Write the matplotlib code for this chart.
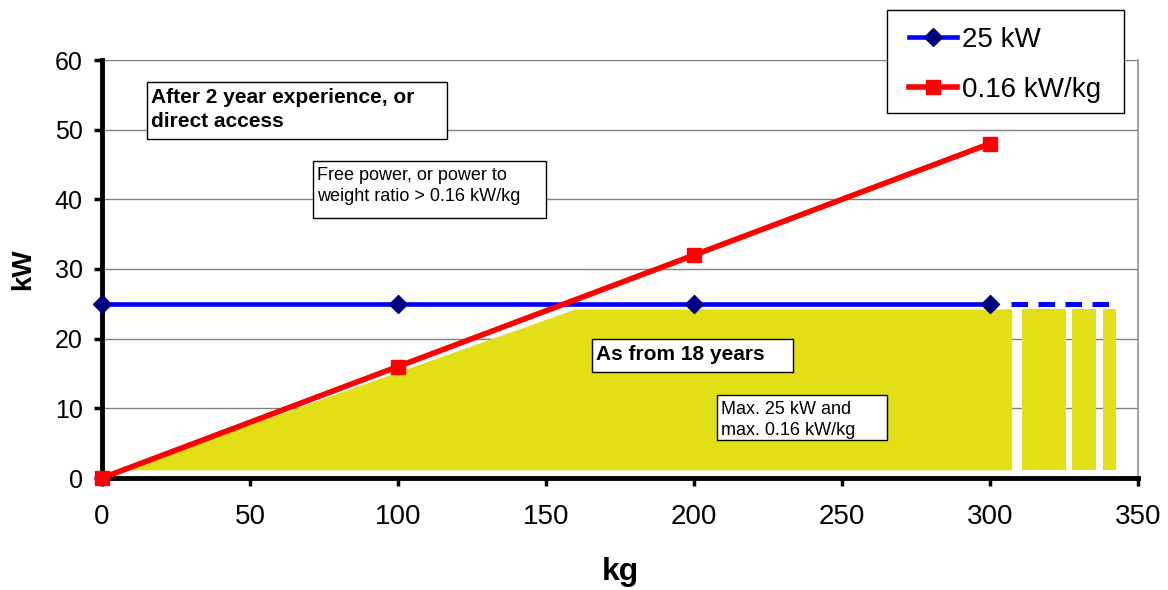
import matplotlib
matplotlib.use("Agg")
import matplotlib.pyplot as plt
from matplotlib.patches import Rectangle, Polygon

plt.rcParams['font.family'] = ['Liberation Sans', 'DejaVu Sans']

# data
kg = [0, 100, 200, 300]
limit_25kw = [25, 25, 25, 25]
ratio_016 = [0, 16, 32, 48]
ext_x = [307, 342]          # dashed continuation of the 25 kW line
ext_y = [25, 25]

# yellow "as from 18 years" area
area_x = [7, 160, 307.5, 307.5]
area_y = [1.1, 24.2, 24.2, 1.1]
strip_left = [310.8, 327.7, 338.2]
strip_right = [325.7, 335.8, 342.6]
strip_bottom = 1.2
strip_top = 24.2

yellow = '#E2DF17'

fig = plt.figure(figsize=(11.68, 5.9), dpi=100)
ax = fig.add_axes([102/1168, 1-478/590, 1036/1168, 418/590])

ax.set_xlim(0, 350)
ax.set_ylim(0, 60)
ax.set_xticks(range(0, 351, 50))
ax.set_yticks(range(0, 61, 10))
ax.yaxis.grid(True, color='#808080', linewidth=1.0)
ax.set_axisbelow(True)

ax.spines['top'].set_visible(False)
ax.spines['right'].set_color('#909090')
ax.spines['right'].set_linewidth(1.2)
for s in ('left', 'bottom'):
    ax.spines[s].set_linewidth(3.5)
ax.tick_params(axis='both', direction='out', length=6, width=2.5)
ax.tick_params(axis='x', pad=13, labelsize=20)
ax.tick_params(axis='y', pad=8, labelsize=18)

# yellow area
ax.add_patch(Polygon(list(zip(area_x, area_y)), closed=True, facecolor=yellow,
                     edgecolor='none', zorder=1))
for l, r in zip(strip_left, strip_right):
    ax.add_patch(Rectangle((l, strip_bottom), r - l, strip_top - strip_bottom,
                           facecolor=yellow, edgecolor='none', zorder=1))

# lines
ax.plot(kg, limit_25kw, color='#0000FF', linewidth=3.3, marker='D', markersize=9,
        markerfacecolor='#000080', markeredgecolor='#000080', label='25 kW',
        zorder=3, clip_on=False)
ax.plot(ext_x, ext_y, color='#0000FF', linewidth=3.6, linestyle=(0, (3.3, 2.1)),
        zorder=3)
ax.plot(kg, ratio_016, color='#FF0000', linewidth=4, marker='s', markersize=9.5,
        markerfacecolor='#FF0000', markeredgecolor='#FF0000', label='0.16 kW/kg',
        zorder=4, clip_on=False)

# text boxes (drawn as rectangles in data coords)
boxes = [
    (15.2, 48.7, 116.6, 56.8),
    (71.3, 37.3, 150.0, 45.5),
    (165.5, 15.2, 233.4, 19.95),
    (207.8, 5.45, 265.2, 11.9),
]
texts = [
    ("After 2 year experience, or\ndirect access", 'bold', 15),
    ("Free power, or power to\nweight ratio > 0.16 kW/kg", 'normal', 13),
    ("As from 18 years", 'bold', 15),
    ("Max. 25 kW and\nmax. 0.16 kW/kg", 'normal', 13),
]
for (x0, y0, x1, y1), (t, w, fs) in zip(boxes, texts):
    ax.add_patch(Rectangle((x0, y0), x1 - x0, y1 - y0, facecolor='white',
                           edgecolor='black', linewidth=1.0, zorder=5))
    ax.text(x0 + 1.3, y1 - 0.8, t, fontsize=fs, fontweight=w, va='top', ha='left',
            linespacing=1.35, zorder=6)

ax.set_xlabel('kg', fontsize=23, fontweight='bold', va='center')
ax.xaxis.set_label_coords(0.5, -(572 - 478) / 418)
ax.set_ylabel('kW', fontsize=20, fontweight='bold', va='center')
ax.yaxis.set_label_coords(-79/1036, 0.5)

# legend without its own frame; frame drawn separately to match the box
fig.patches.append(Rectangle((887/1168, 1-113/590), 237/1168, 103/590,
                             transform=fig.transFigure, facecolor='white',
                             edgecolor='black', linewidth=1.0, zorder=0))
fig.legend(loc='upper left', bbox_to_anchor=(909/1168, 1-27/590),
           fontsize=20, frameon=False, handlelength=1.73, handletextpad=0.18,
           labelspacing=0.86, borderpad=0, borderaxespad=0)

fig.savefig('out.png', dpi=100)
